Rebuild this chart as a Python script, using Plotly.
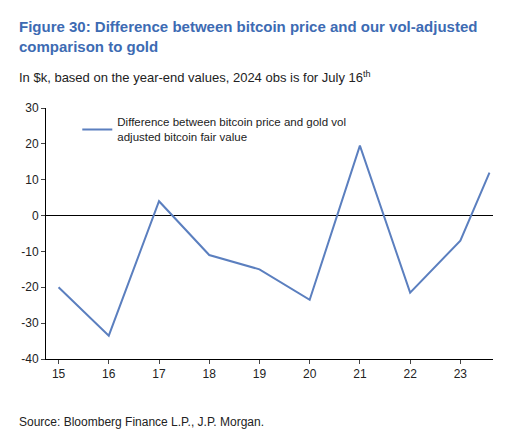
import plotly.graph_objects as go

years = [15, 16, 17, 18, 19, 20, 21, 22, 23, 23.58]
diff_values = [-20, -33.5, 4, -11, -15, -23.5, 19.5, -21.5, -7, 12]
tick_vals = [15, 16, 17, 18, 19, 20, 21, 22, 23]
y_ticks = [30, 20, 10, 0, -10, -20, -30, -40]

fig = go.Figure()
fig.add_trace(go.Scatter(
    x=years, y=diff_values, mode="lines",
    line=dict(color="#5b7fbf", width=2),
    name="Difference between bitcoin price and gold vol<br>adjusted bitcoin fair value",
))

fig.update_layout(
    width=515, height=430,
    paper_bgcolor="white", plot_bgcolor="white",
    margin=dict(l=38, r=30, t=100, b=79),
    font=dict(family="Liberation Sans, Arial", size=12, color="#222"),
    showlegend=True,
    legend=dict(x=0.07, y=1.0, xanchor="left", yanchor="top",
                bgcolor="rgba(0,0,0,0)", font=dict(size=11.5)),
)
fig.update_xaxes(range=[14.75, 23.65], tickvals=tick_vals, ticktext=[str(v) for v in tick_vals],
                 showline=True, linecolor="black", ticks="outside", ticklen=4,
                 showgrid=False, zeroline=False, tickfont=dict(size=12))
fig.update_yaxes(range=[-40, 30], tickvals=y_ticks, ticktext=[str(v) for v in y_ticks],
                 showline=True, linecolor="black",
                 ticks="outside", ticklen=4, showgrid=False,
                 zeroline=True, zerolinecolor="black", zerolinewidth=1,
                 tickfont=dict(size=12))

fig.add_annotation(xref="paper", yref="paper", x=-0.065, y=1.0, yshift=92,
                   xanchor="left", yanchor="top", showarrow=False, align="left",
                   text="<b>Figure 30: Difference between bitcoin price and our vol-adjusted<br>comparison to gold</b>",
                   font=dict(size=15, color="#3d6bb3"))
fig.add_annotation(xref="paper", yref="paper", x=-0.065, y=1.0, yshift=41,
                   xanchor="left", yanchor="top", showarrow=False, align="left",
                   text="In $k, based on the year-end values, 2024 obs is for July 16<sup>th</sup>",
                   font=dict(size=13, color="#222"))
fig.add_annotation(xref="paper", yref="paper", x=-0.065, y=0, yshift=-54,
                   xanchor="left", yanchor="top", showarrow=False,
                   text="Source: Bloomberg Finance L.P., J.P. Morgan.",
                   font=dict(size=12, color="#222"))

fig.write_html("out.html")
